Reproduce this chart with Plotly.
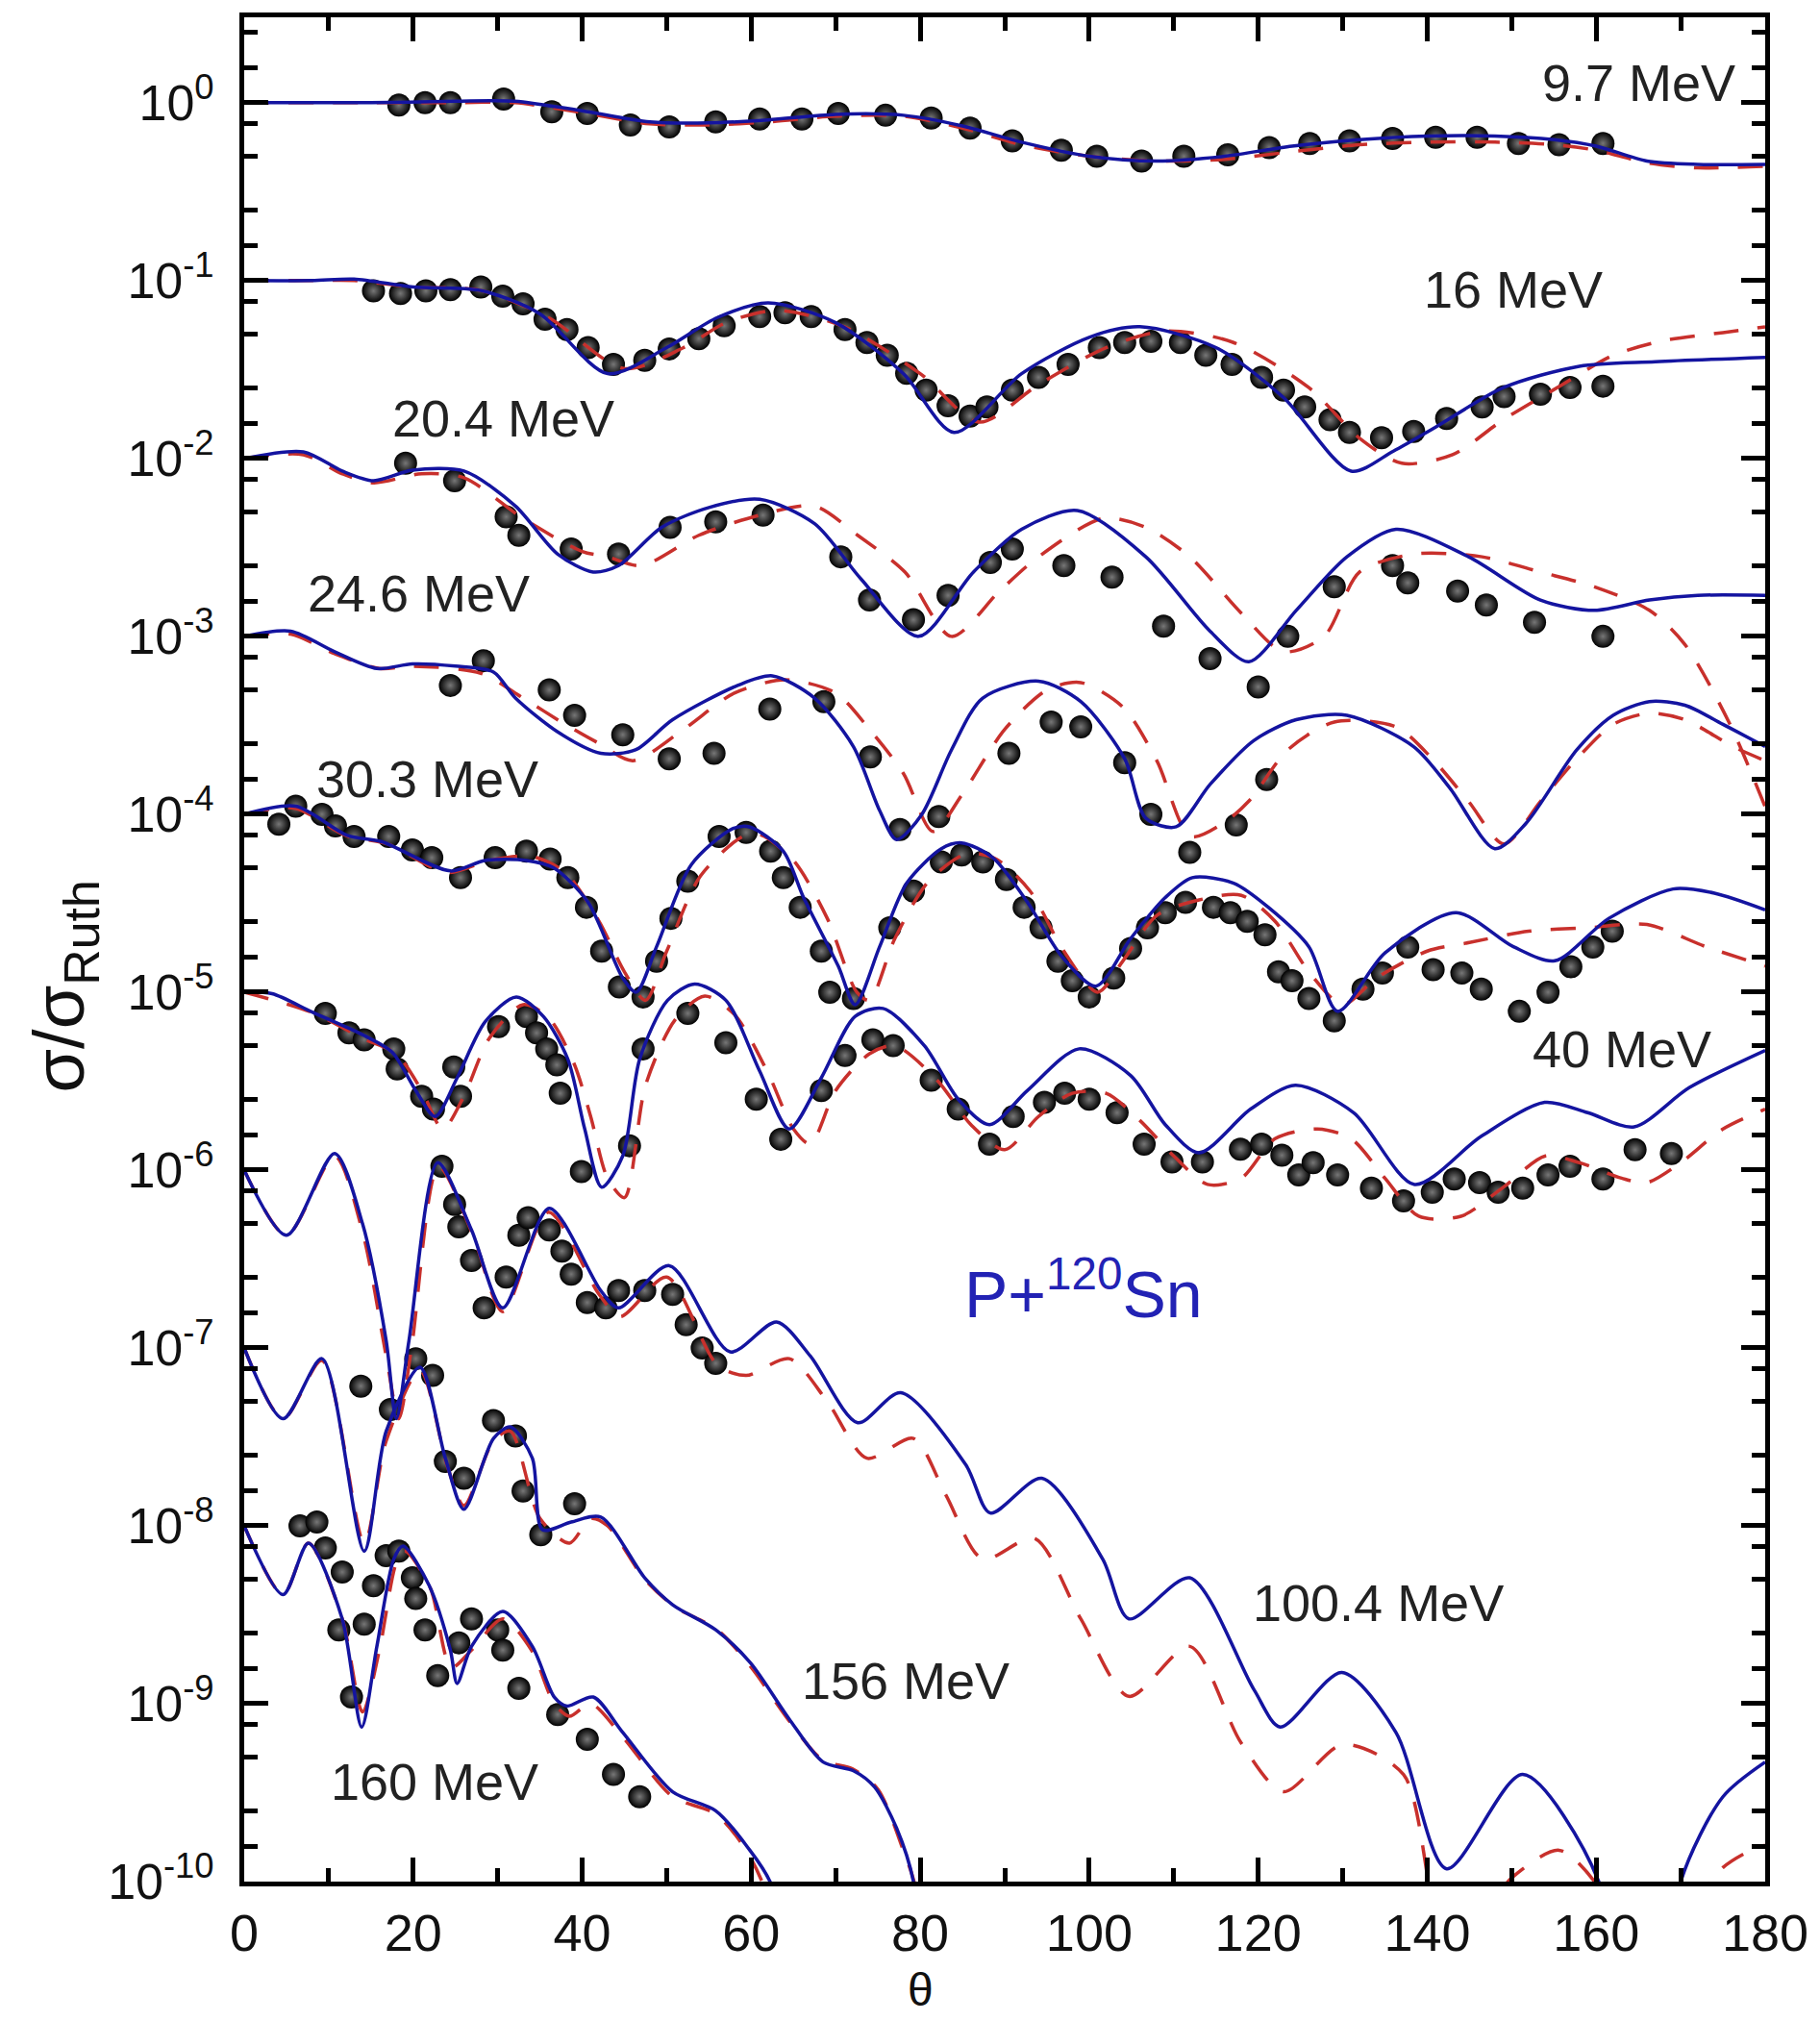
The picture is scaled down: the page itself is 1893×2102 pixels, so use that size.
import plotly.graph_objects as go

# ---------------- data (sigma / sigma_Ruth, unscaled) ----------------
energy_labels = ["9.7 MeV", "16 MeV", "20.4 MeV", "24.6 MeV", "30.3 MeV",
                 "40 MeV", "100.4 MeV", "156 MeV", "160 MeV"]
offset_powers = [0, -1, -2, -3, -4, -5, -6, -7, -8]

# 9.7 MeV
exp_th_9_7 = [18.3, 21.4, 24.4, 30.7, 36.4, 40.6, 45.7, 50.3, 55.8, 61.0, 66.0, 70.3, 75.9, 81.3, 85.9,
              90.9, 96.7, 100.9, 106.2, 111.2, 116.4, 121.3, 126.1, 130.8, 135.9, 141.0, 145.9, 150.8, 155.6, 160.8]
exp_r_9_7 = [0.97, 1.0, 1.0, 1.05, 0.89, 0.87, 0.75, 0.73, 0.78, 0.81, 0.81, 0.87, 0.85, 0.82, 0.72,
             0.61, 0.54, 0.50, 0.47, 0.50, 0.51, 0.56, 0.59, 0.61, 0.63, 0.64, 0.64, 0.59, 0.58, 0.59]
blue_th_9_7 = [0, 15, 25, 32, 40, 48, 55, 62, 70, 78, 85, 92, 100, 108, 116, 124, 132, 140, 148, 155, 160, 166, 172, 180]
blue_r_9_7 = [1.0, 1.0, 1.02, 1.02, 0.9, 0.78, 0.77, 0.8, 0.86, 0.85, 0.74, 0.6, 0.5, 0.47, 0.5, 0.57, 0.62, 0.65,
              0.65, 0.62, 0.57, 0.47, 0.45, 0.45]
red_th_9_7 = [0, 15, 25, 32, 40, 48, 55, 62, 70, 78, 85, 92, 100, 108, 116, 124, 132, 140, 148, 155, 160, 166, 172, 180]
red_r_9_7 = [1.0, 1.0, 1.0, 1.0, 0.88, 0.76, 0.75, 0.78, 0.84, 0.84, 0.72, 0.58, 0.5, 0.47, 0.48, 0.53, 0.58, 0.6,
             0.6, 0.58, 0.54, 0.46, 0.43, 0.44]

# 16 MeV
exp_th_16 = [15.3, 18.5, 21.5, 24.4, 28.0, 30.6, 33.0, 35.6, 38.2, 40.7, 43.7, 47.4, 50.3, 53.8, 56.8, 61.0,
             64.0, 67.1, 71.1, 73.7, 76.1, 78.4, 80.7, 83.3, 85.9, 87.9, 90.9, 94.0, 97.5, 101.2, 104.2, 107.3,
             110.8, 113.8, 116.9, 120.4, 123.0, 125.5, 128.5, 130.8, 134.6, 138.4, 142.3, 146.5, 149.1, 153.4,
             156.9, 160.8]
exp_r_16 = [0.875, 0.847, 0.875, 0.889, 0.92, 0.818, 0.741, 0.607, 0.531, 0.42, 0.338, 0.356, 0.413, 0.472,
            0.557, 0.627, 0.659, 0.627, 0.531, 0.449, 0.38, 0.301, 0.242, 0.198, 0.173, 0.195, 0.242, 0.286,
            0.338, 0.42, 0.449, 0.456, 0.449, 0.38, 0.338, 0.286, 0.242, 0.195, 0.165, 0.14, 0.131, 0.142,
            0.168, 0.195, 0.223, 0.23, 0.251, 0.255]
blue_th_16 = [0, 8, 13, 20, 28, 35, 43, 50, 56, 62, 70, 78, 84, 92, 100, 106, 115, 123, 131, 136, 141, 149, 158, 167, 180]
blue_r_16 = [1.0, 1.0, 1.02, 0.92, 0.88, 0.65, 0.30, 0.42, 0.62, 0.75, 0.58, 0.3, 0.14, 0.3, 0.48, 0.55, 0.42,
             0.22, 0.085, 0.11, 0.15, 0.25, 0.33, 0.35, 0.37]
red_th_16 = [0, 8, 13, 20, 28, 36, 45, 52, 57, 63, 71, 80, 87, 94, 102, 109, 117, 126, 132, 137, 143, 149, 156,
             162, 168, 175, 180]
red_r_16 = [1.0, 1.0, 1.0, 0.92, 0.88, 0.62, 0.32, 0.42, 0.58, 0.68, 0.55, 0.3, 0.16, 0.26, 0.42, 0.52, 0.45,
            0.25, 0.13, 0.094, 0.105, 0.165, 0.26, 0.38, 0.46, 0.51, 0.55]

# 20.4 MeV
exp_th_20_4 = [19.1, 24.9, 31.0, 32.5, 38.7, 44.3, 50.4, 55.8, 61.4, 70.6, 74.0, 79.2, 83.3, 88.3, 90.9, 97.0,
               102.7, 108.8, 114.3, 120.0, 123.5, 129.0, 135.9, 137.7, 143.6, 147.0, 152.7, 160.8]
exp_r_20_4 = [0.94, 0.75, 0.47, 0.37, 0.31, 0.29, 0.41, 0.44, 0.48, 0.28, 0.16, 0.124, 0.17, 0.26, 0.31, 0.25,
              0.215, 0.114, 0.075, 0.052, 0.10, 0.19, 0.25, 0.20, 0.18, 0.15, 0.12, 0.10]
blue_th_20_4 = [0, 7, 11.6, 15.3, 19.9, 26, 32.1, 37.1, 41.3, 44.3, 49.4, 55, 61, 67.5, 73, 79.8, 86.3, 92, 98.6,
                106.7, 114.3, 118.9, 124.5, 130.5, 136.3, 144.9, 153.4, 159.8, 166.3, 172, 180]
blue_r_20_4 = [1.0, 1.09, 0.85, 0.75, 0.86, 0.85, 0.54, 0.29, 0.23, 0.25, 0.41, 0.53, 0.59, 0.43, 0.21, 0.10,
               0.23, 0.4, 0.51, 0.28, 0.107, 0.072, 0.14, 0.28, 0.40, 0.28, 0.16, 0.14, 0.16, 0.17, 0.17]
red_th_20_4 = [0, 7, 11.6, 15.3, 21, 26, 33, 40, 43, 47, 53.8, 61, 67.5, 72.6, 78.2, 83.7, 89.4, 94, 101.6, 106.7,
               111.9, 118, 123, 127.8, 132, 138.4, 146.5, 153.4, 159.8, 166.3, 170.5, 175.7, 180]
red_r_20_4 = [1.0, 1.05, 0.82, 0.73, 0.82, 0.78, 0.46, 0.3, 0.28, 0.25, 0.37, 0.48, 0.54, 0.37, 0.23, 0.10, 0.18,
              0.28, 0.46, 0.41, 0.28, 0.135, 0.082, 0.10, 0.23, 0.29, 0.28, 0.23, 0.19, 0.14, 0.09, 0.033, 0.011]

# 24.6 MeV
exp_th_24_6 = [24.4, 28.3, 36.1, 39.1, 44.8, 50.3, 55.6, 62.2, 68.6, 74.1, 77.6, 82.2, 90.5, 95.5, 99.0, 104.2,
               107.3, 111.9, 117.4, 121.0]
exp_r_24_6 = [0.53, 0.73, 0.50, 0.36, 0.28, 0.205, 0.22, 0.39, 0.43, 0.21, 0.082, 0.097, 0.22, 0.33, 0.31, 0.195,
              0.10, 0.061, 0.087, 0.157]
blue_th_24_6 = [0, 5.5, 10.7, 15.7, 19.9, 25, 29.5, 32.1, 37.1, 42.2, 46.3, 50.7, 58.4, 62.5, 67.5, 72.1, 75.2,
                77.2, 80.2, 83.7, 87.4, 94, 99, 104.2, 106.7, 110.3, 114.3, 119.5, 124.5, 130.5, 138.4, 142.7,
                148.0, 151.7, 157.7, 162, 166.3, 170.5, 175, 180]
blue_r_24_6 = [1.0, 1.07, 0.82, 0.66, 0.70, 0.68, 0.63, 0.45, 0.29, 0.22, 0.23, 0.34, 0.53, 0.60, 0.45, 0.24,
               0.105, 0.072, 0.10, 0.23, 0.45, 0.56, 0.43, 0.205, 0.095, 0.085, 0.147, 0.26, 0.34, 0.36, 0.24,
               0.14, 0.064, 0.089, 0.23, 0.36, 0.43, 0.41, 0.32, 0.24]
red_th_24_6 = [0, 5.5, 10.7, 16, 20, 28, 33, 38, 42, 46, 52, 58, 64, 70, 74, 78, 81.5, 85, 90, 95, 99, 104, 108,
               112, 116, 119, 123.5, 129, 136.3, 140.6, 144.9, 149.1, 153.4, 157.7, 162, 166.3, 170.5, 176.2, 180]
red_r_24_6 = [1.0, 1.03, 0.8, 0.66, 0.68, 0.62, 0.45, 0.32, 0.25, 0.2, 0.3, 0.48, 0.57, 0.48, 0.3, 0.17, 0.08,
              0.13, 0.3, 0.5, 0.55, 0.4, 0.2, 0.075, 0.09, 0.12, 0.23, 0.33, 0.31, 0.205, 0.118, 0.068, 0.118,
              0.205, 0.32, 0.37, 0.34, 0.24, 0.2]

# 30.3 MeV
exp_th_30_3 = [4.1, 6.1, 9.2, 10.8, 13.0, 17.1, 19.9, 22.2, 25.6, 29.7, 33.4, 36.2, 38.3, 40.5, 42.3, 44.4, 47.2,
               48.8, 50.5, 52.5, 56.2, 59.4, 62.3, 63.8, 65.8, 68.3, 69.3, 72.1, 76.4, 79.2, 82.5, 84.9, 87.4,
               90.2, 92.3, 94.3, 96.3, 98.0, 100.0, 102.9, 104.9, 106.9, 109.0, 111.4, 114.7, 116.7, 118.7,
               120.8, 122.4, 124.0, 126.0, 129.0, 132.4, 134.7, 137.7, 140.7, 144.1, 146.4, 150.9, 154.3, 157.0,
               159.6, 161.9]
exp_r_30_3 = [0.88, 1.11, 1.0, 0.86, 0.75, 0.75, 0.63, 0.57, 0.44, 0.57, 0.62, 0.56, 0.44, 0.30, 0.17, 0.107,
              0.094, 0.149, 0.26, 0.42, 0.75, 0.79, 0.62, 0.44, 0.30, 0.17, 0.10, 0.092, 0.23, 0.37, 0.54, 0.59,
              0.54, 0.43, 0.30, 0.23, 0.149, 0.116, 0.094, 0.12, 0.176, 0.23, 0.28, 0.32, 0.30, 0.28, 0.25, 0.21,
              0.13, 0.116, 0.092, 0.069, 0.104, 0.128, 0.179, 0.134, 0.128, 0.104, 0.078, 0.10, 0.139, 0.179,
              0.22]
blue_th_30_3 = [0, 6.1, 12.2, 16.3, 24.4, 28.5, 33.4, 36.6, 40.7, 44.8, 46.4, 48.8, 52.9, 57.8, 59.8, 63.8, 66.2,
                70.3, 72.3, 75.2, 78.4, 82.5, 84.9, 88.6, 92.7, 96.7, 100.8, 104.9, 109, 112.2, 117.1, 121.2, 126,
                129.4, 135, 143.4, 150.2, 155.1, 161.5, 169.1, 174, 180]
blue_r_30_3 = [1.0, 1.11, 0.76, 0.70, 0.48, 0.55, 0.55, 0.50, 0.32, 0.12, 0.1, 0.18, 0.52, 0.83, 0.85, 0.62,
               0.34, 0.14, 0.085, 0.18, 0.41, 0.64, 0.69, 0.57, 0.32, 0.16, 0.108, 0.2, 0.34, 0.44, 0.41, 0.30,
               0.18, 0.078, 0.166, 0.28, 0.18, 0.15, 0.26, 0.38, 0.36, 0.29]
red_th_30_3 = [0, 6, 12, 17, 24, 29, 34, 38, 42, 45, 47.5, 50, 54, 59, 61, 65, 69, 72.5, 74, 77, 81, 85.5, 89, 93,
               97, 101, 104, 108, 113, 118, 122, 126, 130, 134, 140, 145, 152, 159, 166, 173, 180]
red_r_30_3 = [1.0, 1.08, 0.76, 0.68, 0.47, 0.55, 0.58, 0.47, 0.25, 0.13, 0.09, 0.17, 0.45, 0.75, 0.77, 0.55,
              0.26, 0.1, 0.09, 0.2, 0.42, 0.6, 0.56, 0.37, 0.17, 0.1, 0.15, 0.27, 0.33, 0.35, 0.25, 0.13, 0.085,
              0.12, 0.17, 0.19, 0.22, 0.23, 0.24, 0.18, 0.14]

# 40 MeV
exp_th_40 = [9.6, 12.4, 14.2, 17.7, 18.1, 21.0, 22.4, 24.8, 25.6, 30.1, 33.4, 34.6, 35.8, 37.0, 37.4, 39.9, 45.6,
             47.2, 52.5, 57.0, 60.6, 63.5, 68.3, 71.1, 74.4, 76.8, 81.3, 84.5, 88.2, 91.0, 94.7, 97.1, 100.0,
             103.3, 106.5, 109.8, 113.4, 117.9, 120.4, 122.8, 124.8, 126.5, 129.4, 133.4, 137.2, 140.6, 143.2,
             146.2, 148.4, 151.3, 154.3, 156.9, 160.8, 164.6, 168.9]
exp_r_40 = [0.76, 0.59, 0.54, 0.48, 0.37, 0.26, 0.22, 0.38, 0.26, 0.64, 0.73, 0.59, 0.48, 0.39, 0.27, 0.098,
            0.137, 0.48, 0.76, 0.52, 0.25, 0.149, 0.28, 0.44, 0.54, 0.50, 0.32, 0.22, 0.14, 0.20, 0.24, 0.27,
            0.25, 0.21, 0.14, 0.111, 0.111, 0.131, 0.14, 0.121, 0.094, 0.11, 0.094, 0.079, 0.067, 0.075, 0.089,
            0.085, 0.075, 0.079, 0.094, 0.105, 0.089, 0.13, 0.124]
blue_th_40 = [0, 3.3, 8.1, 14.2, 17.5, 20.3, 22.6, 25.2, 28.5, 32.2, 35.4, 38.3, 40.3, 42.3, 44.8, 46.8, 50.1,
              53.3, 57, 61, 64.5, 68.3, 72.3, 75.6, 80.5, 84.5, 88.2, 92.7, 98.8, 104.9, 109, 113, 119.1, 124.4,
              131.3, 138.5, 146.4, 153.9, 159, 164.5, 171, 180]
blue_r_40 = [1.0, 0.98, 0.77, 0.57, 0.46, 0.28, 0.2, 0.33, 0.68, 0.94, 0.73, 0.42, 0.17, 0.08, 0.12, 0.42, 0.9,
             1.11, 0.9, 0.36, 0.17, 0.33, 0.73, 0.81, 0.5, 0.25, 0.18, 0.28, 0.48, 0.34, 0.18, 0.125, 0.22, 0.30,
             0.21, 0.083, 0.155, 0.24, 0.21, 0.175, 0.29, 0.47]
red_th_40 = [0, 8, 14, 18, 21, 23.5, 26, 29, 33, 36, 39, 41, 43, 45, 47.5, 51, 54.5, 58, 62, 65, 67, 70, 74, 77,
             82, 86, 90, 94, 98, 102, 106, 110, 114, 118, 122, 127, 131, 135, 139, 144, 149, 154, 158, 163, 166,
             170, 175, 180]
red_r_40 = [1.0, 0.77, 0.55, 0.45, 0.28, 0.17, 0.26, 0.55, 0.85, 0.72, 0.4, 0.2, 0.09, 0.07, 0.3, 0.7, 0.95, 0.75,
            0.35, 0.17, 0.14, 0.28, 0.45, 0.5, 0.32, 0.18, 0.13, 0.2, 0.27, 0.27, 0.19, 0.12, 0.083, 0.09, 0.15,
            0.17, 0.15, 0.09, 0.055, 0.055, 0.08, 0.12, 0.11, 0.09, 0.085, 0.11, 0.17, 0.22]

# 100.4 MeV
exp_th_100_4 = [23.4, 24.9, 25.4, 26.9, 28.4, 31.0, 32.5, 33.6, 36.1, 37.6, 38.7, 40.6, 42.8, 44.3, 47.4, 50.7,
                52.3, 54.2, 55.8]
exp_r_100_4 = [1.05, 0.64, 0.48, 0.31, 0.168, 0.25, 0.43, 0.54, 0.46, 0.35, 0.26, 0.18, 0.168, 0.21, 0.21, 0.20,
               0.135, 0.10, 0.082]
blue_th_100_4 = [0, 5, 10.7, 14, 16.8, 18, 19.5, 22.9, 26.9, 30.6, 36.1, 42.2, 44.3, 50.3, 57.5, 63, 67, 72.6,
                 77.7, 85.4, 88.3, 94.4, 101.6, 104.7, 111.9, 119.5, 122.6, 129.9, 136.3, 142.3, 151.3, 160.3,
                 163, 167, 170, 175, 180]
blue_r_100_4 = [1.0, 0.43, 1.24, 0.5, 0.11, 0.04, 0.11, 1.1, 0.46, 0.168, 0.61, 0.21, 0.168, 0.29, 0.095, 0.14,
                0.09, 0.038, 0.056, 0.022, 0.0118, 0.0185, 0.0065, 0.003, 0.0051, 0.0012, 0.00074, 0.0015,
                0.00069, 0.000118, 0.0004, 0.0001, 0.00001, 0.00001, 0.0001, 0.0003, 0.00047]
red_th_100_4 = [0, 5, 10.7, 14, 16.8, 18.3, 19.8, 23, 27, 30.6, 36, 42, 44.5, 50, 56, 59.4, 64.5, 69, 73.7, 79.2,
                83, 87.4, 93.5, 99, 104.7, 111.9, 118, 123, 130, 137.2, 142, 146, 150, 155.6, 159.8, 165, 170,
                175, 178.3, 180]
red_r_100_4 = [1.0, 0.43, 1.2, 0.45, 0.09, 0.04, 0.1, 1.05, 0.44, 0.16, 0.58, 0.2, 0.15, 0.25, 0.08, 0.07, 0.087,
               0.05, 0.024, 0.031, 0.015, 0.0065, 0.0085, 0.003, 0.0011, 0.0021, 0.0006, 0.00032, 0.00059,
               0.0004, 0.00005, 0.00006, 0.000105, 0.00015, 0.0001, 0.00003, 0.00006, 0.00012, 0.00015, 0.00016]

# 156 MeV
exp_th_156 = [13.8, 17.3, 20.3, 22.3, 23.8, 26.0, 29.5, 32.1, 33.0, 35.1, 39.1]
exp_r_156 = [0.61, 0.45, 0.87, 0.70, 0.23, 0.185, 0.39, 0.32, 0.157, 0.089, 0.133]
blue_th_156 = [0, 4.6, 9.2, 14.2, 16.8, 20.8, 23.8, 26, 29.5, 31.5, 34.1, 35.3, 38.7, 42.2, 47.4, 50.7, 55.8,
               59.9, 64.5, 68.5, 72.1, 74.6, 77.2, 79.2, 81]
blue_r_156 = [1.0, 0.40, 0.87, 0.072, 0.34, 0.78, 0.24, 0.124, 0.31, 0.36, 0.24, 0.095, 0.105, 0.112, 0.051,
              0.036, 0.026, 0.017, 0.0082, 0.0047, 0.0042, 0.0034, 0.002, 0.001, 0.0001]
red_th_156 = [0, 4.6, 9.2, 14.2, 16.8, 20.8, 24, 26, 29.5, 31.5, 35, 38.5, 41, 43, 47.4, 51, 56, 60, 64.5, 68.5,
              72, 75, 78, 79.5, 81]
red_r_156 = [1.0, 0.40, 0.85, 0.08, 0.3, 0.75, 0.22, 0.13, 0.3, 0.34, 0.11, 0.08, 0.11, 0.1, 0.05, 0.035, 0.026,
             0.016, 0.008, 0.0048, 0.0043, 0.0033, 0.0015, 0.0009, 0.0001]

# 160 MeV
exp_th_160 = [6.6, 8.6, 9.6, 11.2, 11.6, 12.7, 14.2, 15.3, 16.8, 18.3, 19.9, 20.3, 21.4, 22.9, 25.4, 26.9, 30.0,
              30.6, 32.5, 37.1, 40.6, 43.7, 46.8]
exp_r_160 = [1.0, 1.05, 0.75, 0.26, 0.55, 0.109, 0.28, 0.46, 0.68, 0.72, 0.51, 0.39, 0.26, 0.144, 0.22, 0.30,
             0.26, 0.20, 0.122, 0.087, 0.063, 0.04, 0.03]
blue_th_160 = [0, 4.6, 7.6, 11.6, 13.9, 15.7, 17.7, 18.8, 21.9, 24.4, 25.2, 26.9, 30.6, 34.1, 36.7, 38.2, 41.3,
               44.8, 50.7, 55.8, 59.4, 62.5, 64.5]
blue_r_160 = [1.0, 0.41, 0.8, 0.30, 0.074, 0.21, 0.65, 0.77, 0.46, 0.2, 0.13, 0.21, 0.33, 0.21, 0.109, 0.097,
              0.109, 0.069, 0.032, 0.025, 0.016, 0.0093, 0.001]
red_th_160 = [0, 4.6, 7.6, 11.6, 14, 16, 18, 19, 22, 24.5, 26.9, 30.6, 34, 36.7, 38.5, 41, 44.8, 50.7, 55.8, 59.4,
              62, 64.5]
red_r_160 = [1.0, 0.41, 0.8, 0.3, 0.09, 0.2, 0.62, 0.72, 0.45, 0.16, 0.2, 0.3, 0.2, 0.1, 0.085, 0.1, 0.065, 0.03,
             0.024, 0.015, 0.008, 0.001]

exp_th = [exp_th_9_7, exp_th_16, exp_th_20_4, exp_th_24_6, exp_th_30_3, exp_th_40, exp_th_100_4, exp_th_156, exp_th_160]
exp_r = [exp_r_9_7, exp_r_16, exp_r_20_4, exp_r_24_6, exp_r_30_3, exp_r_40, exp_r_100_4, exp_r_156, exp_r_160]
blue_th = [blue_th_9_7, blue_th_16, blue_th_20_4, blue_th_24_6, blue_th_30_3, blue_th_40, blue_th_100_4, blue_th_156, blue_th_160]
blue_r = [blue_r_9_7, blue_r_16, blue_r_20_4, blue_r_24_6, blue_r_30_3, blue_r_40, blue_r_100_4, blue_r_156, blue_r_160]
red_th = [red_th_9_7, red_th_16, red_th_20_4, red_th_24_6, red_th_30_3, red_th_40, red_th_100_4, red_th_156, red_th_160]
red_r = [red_r_9_7, red_r_16, red_r_20_4, red_r_24_6, red_r_30_3, red_r_40, red_r_100_4, red_r_156, red_r_160]

x_ticks = [0, 20, 40, 60, 80, 100, 120, 140, 160, 180]
y_powers = list(range(-10, 1))

# ---------------- figure ----------------
BLUE = "#1414a0"
RED = "#c8302c"
FONT = "Liberation Sans, Arial, sans-serif"

fig = go.Figure()


def scaled(vals, p):
    return [v * 10 ** p for v in vals]


for i, p in enumerate(offset_powers):
    fig.add_trace(go.Scatter(
        x=exp_th[i], y=scaled(exp_r[i], p), mode="markers",
        marker=dict(color="black", size=24, line=dict(width=0),
                    gradient=dict(type="radial", color="#777777")),
        hoverinfo="skip"))

for i, p in enumerate(offset_powers):
    fig.add_trace(go.Scatter(
        x=red_th[i], y=scaled(red_r[i], p), mode="lines",
        line=dict(color=RED, width=3.5, dash="26px,20px", shape="spline", smoothing=0.8),
        hoverinfo="skip"))

for i, p in enumerate(offset_powers):
    fig.add_trace(go.Scatter(
        x=blue_th[i], y=scaled(blue_r[i], p), mode="lines",
        line=dict(color=BLUE, width=3.5, shape="spline", smoothing=0.8),
        hoverinfo="skip"))

# energy labels (theta, log10 y)
label_pos = [(165.0, 0.11), (150.2, -1.05), (30.7, -1.775), (20.6, -2.76), (21.7, -3.80),
             (163.0, -5.32), (134.2, -8.43), (78.3, -8.87), (22.5, -9.44)]
for txt, (lx, ly) in zip(energy_labels, label_pos):
    fig.add_annotation(x=lx, y=ly, xref="x", yref="y", text=txt, showarrow=False,
                       font=dict(family=FONT, size=54, color="#222222"),
                       xanchor="center", yanchor="middle")

fig.add_annotation(x=99.3, y=-6.67, xref="x", yref="y", text="P+<sup>120</sup>Sn", showarrow=False,
                   font=dict(family=FONT, size=68, color="#2222b4"), xanchor="center", yanchor="middle")

# axis titles
fig.add_annotation(x=80, y=-0.058, xref="x", yref="paper", text="θ", showarrow=False,
                   font=dict(family=FONT, size=48, color="#111111"), xanchor="center", yanchor="middle")
fig.add_annotation(x=-0.118, y=0.48, xref="paper", yref="paper", text="σ/σ<sub>Ruth</sub>",
                   showarrow=False, textangle=-90,
                   font=dict(family=FONT, size=74, color="#111111"), xanchor="center", yanchor="middle")

minor_factors = [0.766, 0.5, 0.25, 0.158]
y_minor = [f * 10 ** k for k in range(-9, 2) for f in minor_factors if f * 10 ** k <= 3.0]

fig.update_layout(
    width=1893, height=2102,
    margin=dict(l=254, r=57, t=18, b=145),
    plot_bgcolor="white", paper_bgcolor="white",
    showlegend=False,
    font=dict(family=FONT, color="#111111"),
)

fig.update_xaxes(
    range=[0, 180], tickmode="array", tickvals=x_ticks, ticktext=[str(t) for t in x_ticks],
    ticks="inside", ticklen=25, tickwidth=5, tickcolor="black",
    showline=True, linewidth=5, linecolor="black", mirror="allticks",
    showgrid=False, zeroline=False,
    tickfont=dict(family=FONT, size=54, color="#111111"), ticklabelstandoff=2,
    minor=dict(tickmode="array", tickvals=[10, 30, 50, 70, 90, 110, 130, 150, 170],
               ticks="inside", ticklen=14, tickwidth=5, tickcolor="black", showgrid=False),
)

fig.update_yaxes(
    type="log", range=[-10, 0.48], tickmode="array",
    tickvals=[10 ** k for k in y_powers],
    ticktext=["10<sup>%d</sup>" % k if k >= 0 else "10<sup>-%d</sup>" % (-k) for k in y_powers],
    ticks="inside", ticklen=25, tickwidth=5, tickcolor="black",
    showline=True, linewidth=5, linecolor="black", mirror="allticks",
    showgrid=False, zeroline=False,
    tickfont=dict(family=FONT, size=52, color="#111111"), ticklabelstandoff=16,
    minor=dict(tickmode="array", tickvals=y_minor,
               ticks="inside", ticklen=14, tickwidth=5, tickcolor="black", showgrid=False),
)

fig.write_html("out.html")
